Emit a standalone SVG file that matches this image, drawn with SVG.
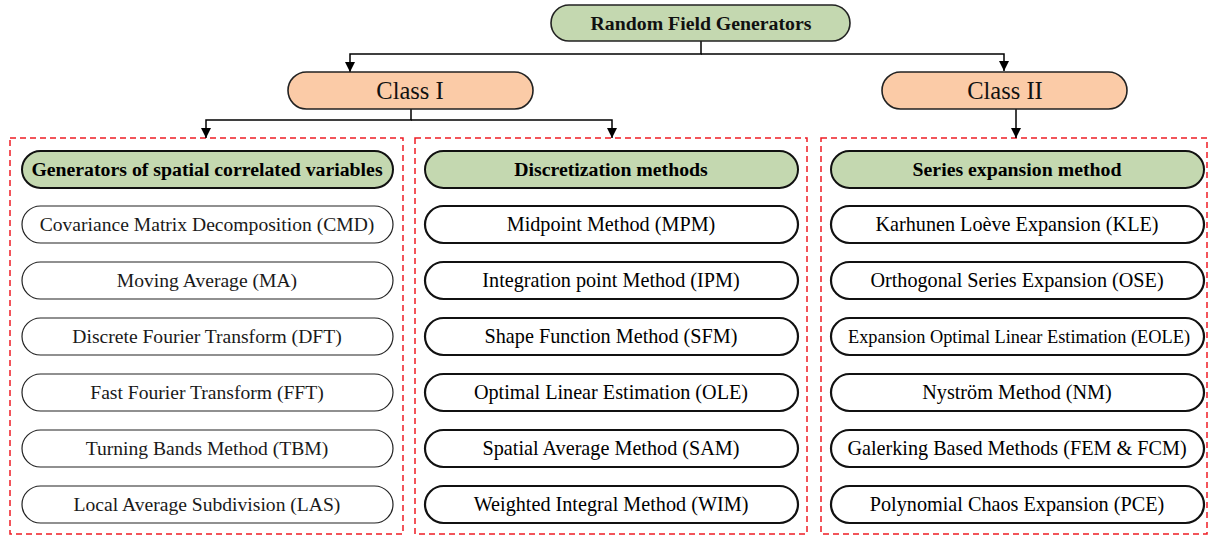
<svg xmlns="http://www.w3.org/2000/svg" width="1210" height="536" viewBox="0 0 1210 536">
  <defs>
    <marker id="arr" viewBox="0 0 10 10" refX="10" refY="5" markerWidth="10" markerHeight="10" markerUnits="userSpaceOnUse" orient="auto">
      <path d="M0,0 L10,5 L0,10 z" fill="#000"/>
    </marker>
  </defs>
  <style>
    text { font-family: "Liberation Serif", "Times New Roman", serif; fill: #111; text-anchor: middle; }
    .root rect { fill: #c4d8b0; stroke: #222; stroke-width: 1.6; }
    .root text { font-size: 19.8px; font-weight: bold; }
    .cls rect { fill: #fbcba7; stroke: #222; stroke-width: 1.6; }
    .cls text { font-size: 24.5px; }
    .head rect { fill: #c4d8b0; stroke: #111; stroke-width: 2; }
    .head text { font-size: 19.8px; font-weight: bold; fill: #000; }
    .item rect { fill: #fff; stroke: #222; stroke-width: 1.2; }
    .item text { font-size: 19.6px; fill: #1a1a1a; }
    .item2 rect { fill: #fff; stroke: #111; stroke-width: 2.2; }
    .item2 text { font-size: 20.2px; fill: #000; }
    .frame { fill: none; stroke: #ee1c24; stroke-width: 1.5; stroke-dasharray: 6 4; }
    .conn { fill: none; stroke: #000; stroke-width: 1.5; }
  </style>

  <rect width="1210" height="536" fill="#fff"/>

  <!-- dashed group frames -->
  <g id="frames">
    <rect class="frame" x="10" y="138" width="393" height="396"/>
    <rect class="frame" x="415" y="138" width="392" height="396"/>
    <rect class="frame" x="821" y="138" width="386" height="396"/>
  </g>

  <!-- connectors -->
  <g id="connectors">
    <path class="conn" d="M701,41 V54 H350 V72" marker-end="url(#arr)"/>
    <path class="conn" d="M701,54 H1004 V71" marker-end="url(#arr)"/>
    <path class="conn" d="M411,109 V120 H206 V138" marker-end="url(#arr)"/>
    <path class="conn" d="M411,120 H612 V138" marker-end="url(#arr)"/>
    <path class="conn" d="M1016,109 V138" marker-end="url(#arr)"/>
  </g>

  <!-- root -->
  <g id="root" class="root">
    <rect x="551" y="5" width="299" height="36" rx="18"/>
    <text x="701" y="30">Random Field Generators</text>
  </g>

  <!-- classes -->
  <g id="class1" class="cls">
    <rect x="288" y="72" width="245" height="37" rx="18.5"/>
    <text x="410" y="99">Class I</text>
  </g>
  <g id="class2" class="cls">
    <rect x="882" y="72" width="245" height="37" rx="18.5"/>
    <text x="1005" y="99">Class II</text>
  </g>

  <!-- column headers -->
  <g id="head1" class="head">
    <rect x="22" y="151" width="371" height="37" rx="18.5"/>
    <text x="207" y="176">Generators of spatial correlated variables</text>
  </g>
  <g id="head2" class="head">
    <rect x="425" y="151" width="373" height="37" rx="18.5"/>
    <text x="611" y="176">Discretization methods</text>
  </g>
  <g id="head3" class="head">
    <rect x="831" y="151" width="373" height="37" rx="18.5"/>
    <text x="1017" y="176">Series expansion method</text>
  </g>

  <!-- Class I / spatial generators -->
  <g id="cmd" class="item"><rect x="22" y="206" width="371" height="37" rx="18.5"/><text x="207" y="231">Covariance Matrix Decomposition (CMD)</text></g>
  <g id="ma" class="item"><rect x="22" y="262" width="371" height="37" rx="18.5"/><text x="207" y="287">Moving Average (MA)</text></g>
  <g id="dft" class="item"><rect x="22" y="318" width="371" height="37" rx="18.5"/><text x="207" y="343">Discrete Fourier Transform (DFT)</text></g>
  <g id="fft" class="item"><rect x="22" y="374" width="371" height="37" rx="18.5"/><text x="207" y="399">Fast Fourier Transform (FFT)</text></g>
  <g id="tbm" class="item"><rect x="22" y="430" width="371" height="37" rx="18.5"/><text x="207" y="455">Turning Bands Method (TBM)</text></g>
  <g id="las" class="item"><rect x="22" y="486" width="371" height="37" rx="18.5"/><text x="207" y="511">Local Average Subdivision (LAS)</text></g>

  <!-- Class I / discretization -->
  <g id="mpm" class="item2"><rect x="425" y="206" width="373" height="37" rx="18.5"/><text x="611" y="231">Midpoint Method (MPM)</text></g>
  <g id="ipm" class="item2"><rect x="425" y="262" width="373" height="37" rx="18.5"/><text x="611" y="287">Integration point Method (IPM)</text></g>
  <g id="sfm" class="item2"><rect x="425" y="318" width="373" height="37" rx="18.5"/><text x="611" y="343">Shape Function Method (SFM)</text></g>
  <g id="ole" class="item2"><rect x="425" y="374" width="373" height="37" rx="18.5"/><text x="611" y="399">Optimal Linear Estimation (OLE)</text></g>
  <g id="sam" class="item2"><rect x="425" y="430" width="373" height="37" rx="18.5"/><text x="611" y="455">Spatial Average Method (SAM)</text></g>
  <g id="wim" class="item2"><rect x="425" y="486" width="373" height="37" rx="18.5"/><text x="611" y="511">Weighted Integral Method (WIM)</text></g>

  <!-- Class II / series expansion -->
  <g id="kle" class="item2"><rect x="831" y="206" width="373" height="37" rx="18.5"/><text x="1017" y="231">Karhunen Loève Expansion (KLE)</text></g>
  <g id="ose" class="item2"><rect x="831" y="262" width="373" height="37" rx="18.5"/><text x="1017" y="287">Orthogonal Series Expansion (OSE)</text></g>
  <g id="eole" class="item2"><rect x="831" y="318" width="373" height="37" rx="18.5"/><text x="1019" y="343" textLength="342" lengthAdjust="spacingAndGlyphs" style="font-size:19.5px">Expansion Optimal Linear Estimation (EOLE)</text></g>
  <g id="nm" class="item2"><rect x="831" y="374" width="373" height="37" rx="18.5"/><text x="1017" y="399">Nyström Method (NM)</text></g>
  <g id="gbm" class="item2"><rect x="831" y="430" width="373" height="37" rx="18.5"/><text x="1017" y="455">Galerking Based Methods (FEM &amp; FCM)</text></g>
  <g id="pce" class="item2"><rect x="831" y="486" width="373" height="37" rx="18.5"/><text x="1017" y="511">Polynomial Chaos Expansion (PCE)</text></g>
</svg>
